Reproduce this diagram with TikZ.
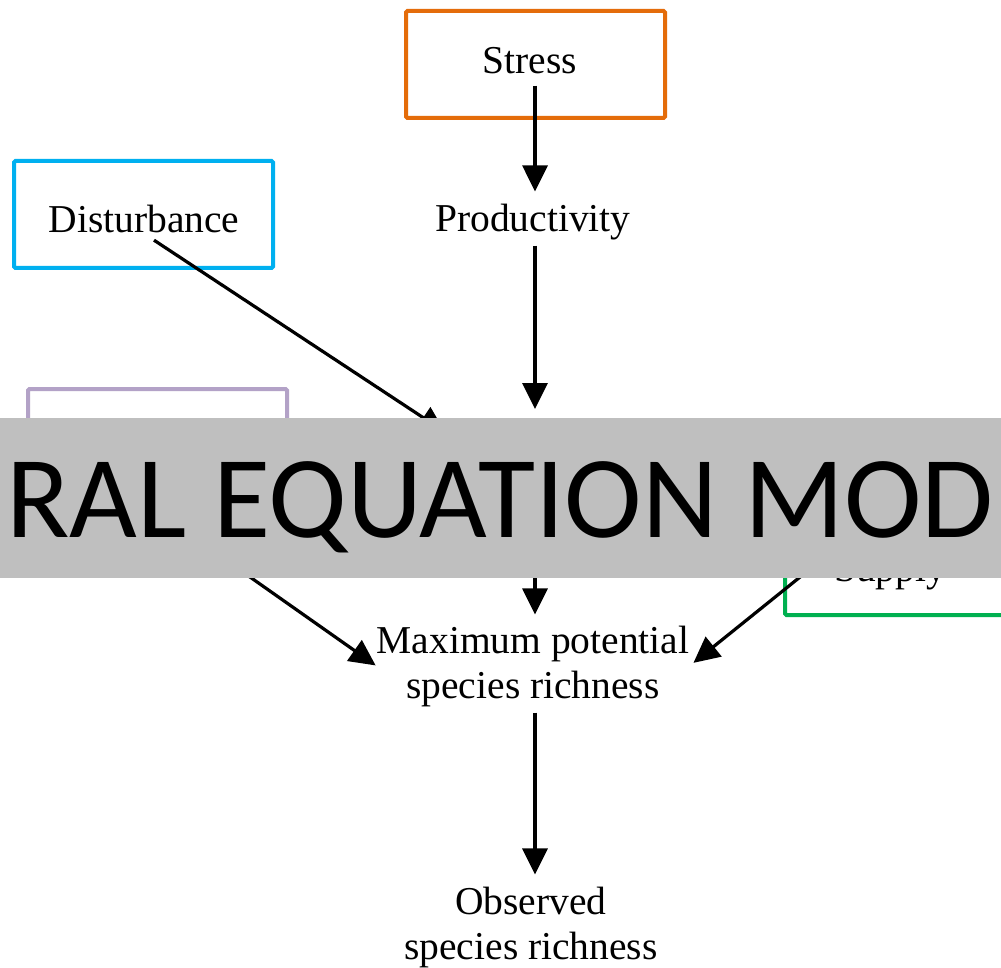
\documentclass[tikz,border=0pt]{standalone}
\usepackage{fontspec}
\setmainfont{Liberation Serif}
\newfontfamily\bannerfont{Carlito}
\usetikzlibrary{arrows.meta}
\definecolor{cOrange}{RGB}{228,108,10}
\definecolor{cBlue}{RGB}{0,176,240}
\definecolor{cPurple}{RGB}{179,162,199}
\definecolor{cGreen}{RGB}{0,176,80}
\definecolor{cBanner}{RGB}{191,191,191}
\begin{document}
\begin{tikzpicture}[x=1pt,y=-1pt,
  lbl/.style={font=\fontsize{39.5}{45}\selectfont, inner sep=0pt, align=center},
  frame/.style={draw=#1, line width=4pt, rounded corners=1.5pt, minimum width=259pt, minimum height=107pt, inner sep=0pt, anchor=north west},
  arr/.style={line width=3.2pt, -{Triangle[length=26pt,width=25pt]}}]
\useasboundingbox (0,0) rectangle (1001,968);
\fill[white] (0,0) rectangle (1001,968);
% boxes
\node[frame=cOrange] (stressbox) at (404,9) {};
\node[frame=cBlue] (distbox) at (12,159) {};
\node[frame=cPurple] (purplebox) at (26,387) {};
\node[frame=cGreen] (greenbox) at (783,506) {};
% texts
\node[lbl, anchor=base] (stress) at (530,74) {Stress};
\node[lbl, anchor=base] (prod) at (533,232) {Productivity};
\node[lbl, anchor=base] (dist) at (144,233) {Disturbance};
\node[lbl, anchor=base] (supply) at (890,581) {Supply};
\node[lbl] (maxp) at (533,666) {Maximum potential\\species richness};
\node[lbl] (obs) at (531,927) {Observed\\species richness};
% hidden junctions
\coordinate (hubtop) at (535,409);
\coordinate (distend) at (445,432);
\coordinate (hubbot) at (535,560);
\coordinate (purpout) at (169,520);
\coordinate (supout) at (846,540);
% arrows
\draw[arr, shorten <=11pt, shorten >=13pt] (stress.south -| hubtop) -- (prod.north -| hubtop);
\draw[arr, shorten <=5pt] (prod.south -| hubtop) -- (hubtop);
\draw[arr, shorten <=12pt] (dist.south) -- (distend);
\draw[arr, shorten >=11pt] (hubbot) -- (hubbot |- maxp.north);
\draw[arr, shorten >=1pt] (purpout) -- (maxp.west);
\draw[arr, shorten >=5pt] (supout) -- (maxp.east);
\draw[arr, shorten <=6pt, shorten >=12pt] (maxp.south -| hubtop) -- (obs.north -| hubtop);
% banner
\node[fill=cBanner, minimum width=1001pt, minimum height=160pt, inner sep=0pt, anchor=north west] (banner) at (0,418) {};
\node[font=\bannerfont\fontsize{117}{117}\selectfont, inner sep=0pt, anchor=base] (bantext) at (500,537) {RAL EQUATION MOD};
\end{tikzpicture}
\end{document}
